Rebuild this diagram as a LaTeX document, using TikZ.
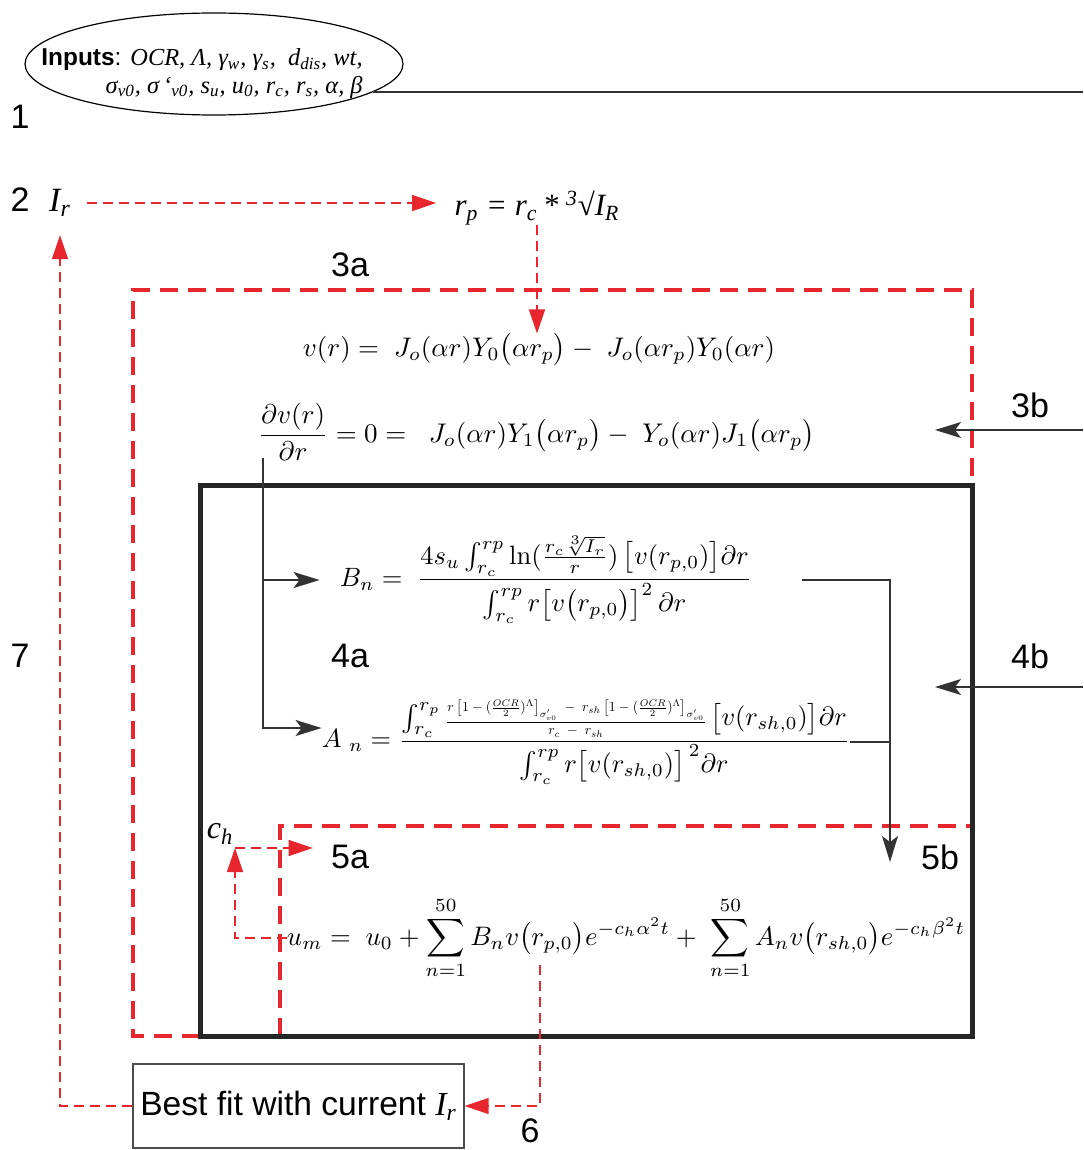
\documentclass[tikz,border=0pt]{standalone}
\usepackage{amsmath}
\usepackage{graphicx}
\usepackage[no-math]{fontspec}
\setmainfont{Liberation Sans}
\newfontfamily\tms{Liberation Serif}
\usetikzlibrary{shapes.geometric,arrows.meta,calc}
\definecolor{myred}{HTML}{E8262D}
\definecolor{boxc}{HTML}{262626}
\definecolor{connc}{HTML}{333333}
\newcommand{\eqfit}[2]{\resizebox{#1}{!}{$\displaystyle #2$}}
\begin{document}
\begin{tikzpicture}[x=0.5pt,y=-0.5pt,
  lab/.style={font=\fontsize{17}{20}\selectfont, inner sep=0pt},
  tmsnode/.style={font=\fontsize{17}{20}\selectfont\tms\itshape, inner sep=0pt},
  eqnode/.style={inner sep=0pt},
  reddash/.style={draw=myred, line width=0.75pt, dash pattern=on 5pt off 3pt},
  redarrow/.style={reddash, -{Triangle[length=12pt,width=8pt,fill=myred]}},
  redthick/.style={draw=myred, line width=2pt, dash pattern=on 9pt off 5pt},
  conn/.style={draw=connc, line width=0.75pt},
  connarrow/.style={conn, -{Stealth[length=13pt,width=8pt,inset=3pt]}}
]
\useasboundingbox (0,0) rectangle (1083,1150);

% containers
\draw[redthick] (200,1036) -- (133,1036) -- (133,290) -- (972,290) -- (972,485);
\draw[redthick] (280,1036) -- (280,826) -- (972,826);
\draw[boxc, line width=2.5pt] (200,485) rectangle (972,1036);

% coordinates
\coordinate (e1) at (1083,92);
\coordinate (e3b) at (1083,430);
\coordinate (t3b) at (935,430);
\coordinate (e4b) at (1083,687);
\coordinate (t4b) at (935,687);
\coordinate (dvf) at (263,458);
\coordinate (c5b) at (890,862);
\coordinate (chc) at (235,848);
\coordinate (umf) at (540,965);

% inputs ellipse
\node[draw=black, line width=0.6pt, ellipse, minimum width=189pt, minimum height=51pt, inner sep=0pt] (inputs) at (214,64)
 {\makebox[0pt]{\smash{\raisebox{-8pt}{\fontsize{12.2}{13.6}\selectfont\begin{tabular}{@{}r@{}}\textbf{Inputs}: {\tms\itshape OCR, Λ, γ\textsubscript{w}, γ\textsubscript{s}, \ d\textsubscript{dis}, wt,}\\ {\tms\itshape σ\textsubscript{v0}, σ\,‘\textsubscript{v0}, s\textsubscript{u}, u\textsubscript{0}, r\textsubscript{c}, r\textsubscript{s}, α, β}\end{tabular}}}\hspace{12pt}}};

% labels
\node[lab] (l1) at (20,117) {1};
\node[lab] (l2) at (20,200) {2};
\node[lab] (l3a) at (350,265) {3a};
\node[lab] (l3b) at (1030,405) {3b};
\node[lab] (l4a) at (350,656) {4a};
\node[lab] (l4b) at (1030,656) {4b};
\node[lab] (l5a) at (350,857) {5a};
\node[lab] (l5b) at (940,857) {5b};
\node[lab] (l6) at (530,1131) {6};
\node[lab] (l7) at (20,656) {7};

% text nodes
\node[tmsnode] (ir) at (60,203) {I\textsubscript{r}};
\node[tmsnode, font=\fontsize{15.5}{18}\selectfont\tms\itshape] (rp) at (537,208) {r\textsubscript{p} = r\textsubscript{c}\,* \textsuperscript{3}√I\textsubscript{R}};
\node[tmsnode, font=\fontsize{16}{18}\selectfont\tms\itshape] (ch) at (220,834) {c\textsubscript{h}};

% equations
\node[eqnode] (veq) at (539,350) {\eqfit{236pt}{v(r) =\ J_o(\alpha r)Y_0\big(\alpha r_p\big) -\ J_o(\alpha r_p)Y_0(\alpha r)}};
\node[eqnode] (dveq) at (536.5,432) {\eqfit{278.5pt}{\frac{\partial v(r)}{\partial r} = 0 =\ \ J_o(\alpha r)Y_1\big(\alpha r_p\big) -\ Y_o(\alpha r)J_1\big(\alpha r_p\big)}};
\node[eqnode] (bn) at (546,580) {\eqfit{206pt}{B_n =\ \frac{4s_u \int_{r_c}^{rp} \ln(\frac{r_c\sqrt[3]{I_r}}{r})\,\big[v(r_{p,0})\big]\partial r}{\int_{r_c}^{rp} r\big[v\big(r_{p,0}\big)\big]^2\,\partial r}}};
\node[eqnode] (an) at (586,742) {\eqfit{264pt}{A_{\ n} = \frac{\int_{r_c}^{r_p} \mbox{\resizebox{99pt}{!}{$\displaystyle\frac{r\left[1-(\tfrac{OCR}{2})^{\Lambda}\right]_{\sigma'_{v0}}\ -\ r_{sh}\left[1-(\tfrac{OCR}{2})^{\Lambda}\right]_{\sigma'_{v0}}}{r_c\ -\ r_{sh}}$}}\,\big[v(r_{sh,0})\big]\partial r}{\int_{r_c}^{rp} r\big[v(r_{sh,0})\big]^{\,2}\partial r}}};
\node[eqnode] (um) at (626,938) {\eqfit{339pt}{u_m =\ u_0 + \sum_{n=1}^{50} B_n v\big(r_{p,0}\big)e^{-c_h\alpha^2 t} +\ \sum_{n=1}^{50} A_n v\big(r_{sh,0}\big)e^{-c_h\beta^2 t}}};

% best fit box
\node[draw=gray!60!black, line width=0.7pt, minimum width=165.5pt, minimum height=42pt, inner sep=0pt, font=\fontsize{16.8}{20}\selectfont] (bestfit) at (298.5,1106) {\raisebox{-4.5pt}{Best fit with current {\tms\itshape I\textsubscript{r}}}};

% black connectors
\draw[conn] (inputs.-10) -- (inputs.-10 -| e1);
\draw[connarrow] (e3b) -- (t3b);
\draw[connarrow] (e4b) -- (t4b);
\draw[connarrow, shorten >=10pt] (dvf) |- (bn.west);
\draw[connarrow] (dvf) |- ([yshift=7pt]an.west);
\draw[connarrow] ([xshift=25pt]bn.east) -| (c5b);
\draw[conn] (an.east) -- (an.east -| c5b);

% red connectors
\draw[redarrow, shorten <=8pt, shorten >=9pt] (ir.east) -- (ir.east -| rp.west);
\draw[redarrow] (rp.south) -- (rp.south |- veq.north);
\draw[redarrow] (umf) |- (bestfit.east);
\draw[redarrow, shorten >=9pt] (bestfit.west) -| (ir.south);
\draw[redarrow] (um.west) -| (chc);
\draw[redarrow, shorten >=9pt] (chc) -- (chc -| l5a.west);
\end{tikzpicture}
\end{document}
